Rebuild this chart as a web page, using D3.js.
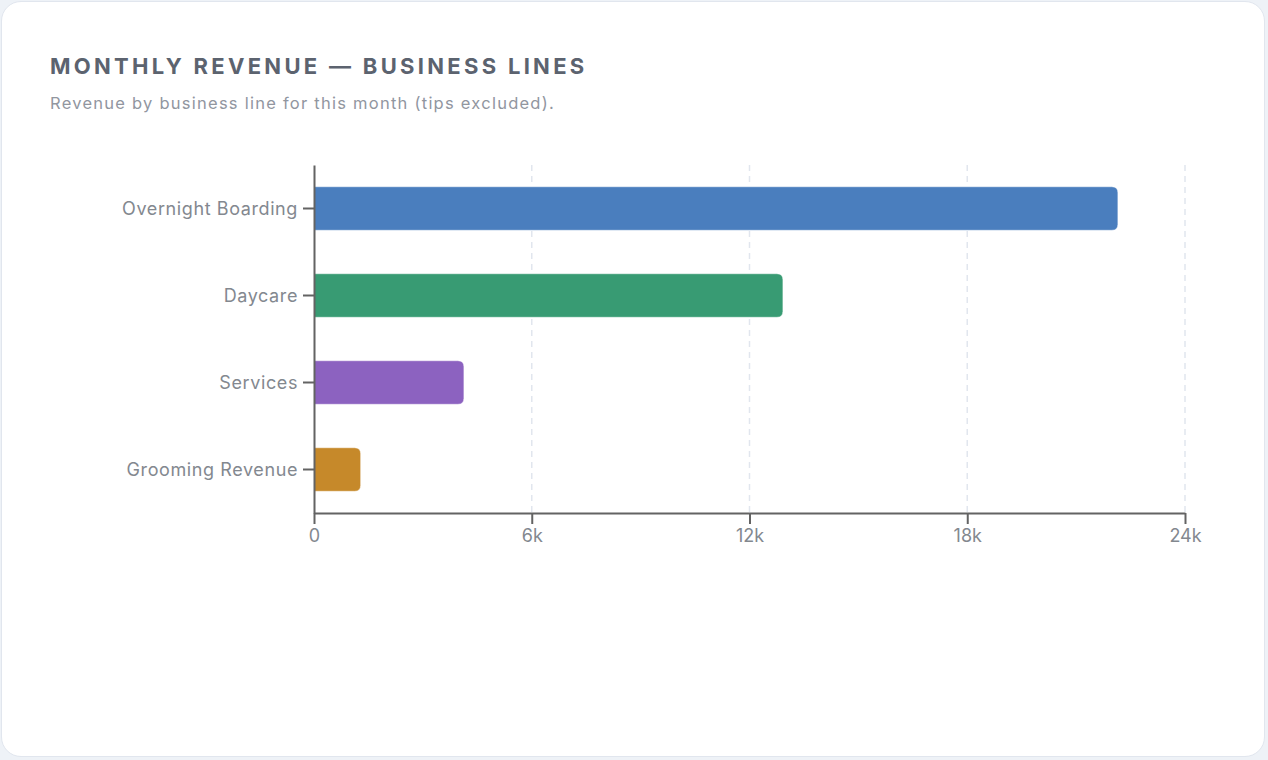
<!DOCTYPE html>
<html>
<head>
<meta charset="utf-8">
<script src="https://cdn.jsdelivr.net/npm/d3@7"></script>
<style>
  html, body { margin: 0; padding: 0; background: #eef2f7; }
  body { width: 1268px; height: 760px; overflow: hidden; font-family: Inter, "Noto Sans", sans-serif; }
  .card { position: absolute; left: 1px; top: 1px; width: 1264px; height: 756px; background: #fff; border: 1px solid #e1e6ee; border-radius: 20px; box-sizing: border-box; }
  svg { position: absolute; left: 0; top: 0; }
</style>
</head>
<body>
<div class="card"></div>
<svg id="chart" width="1268" height="760"></svg>
<script>
const categories = ["Overnight Boarding", "Daycare", "Services", "Grooming Revenue"];
const revenue = [22150, 12920, 4130, 1285];
const barColors = ["#4a7ebe", "#389b73", "#8c62c0", "#c6892a"];
const xTicks = [0, 6000, 12000, 18000, 24000];
const xTickLabels = ["0", "6k", "12k", "18k", "24k"];
const title = "MONTHLY REVENUE — BUSINESS LINES";
const subtitle = "Revenue by business line for this month (tips excluded).";

const svg = d3.select("#chart");
const margin = { left: 314, right: 83, top: 165, bottom: 247 };
const W = 1268, H = 760;

svg.append("text").attr("x", 50).attr("y", 73.5)
  .attr("fill", "#5c636f").attr("font-size", 22).attr("font-weight", 700)
  .attr("letter-spacing", "3.3px").text(title);
svg.append("text").attr("x", 50).attr("y", 109.3)
  .attr("fill", "#91969f").attr("font-size", 16.5).attr("letter-spacing", "1.25px").text(subtitle);

const x = d3.scaleLinear().domain([0, 24000]).range([margin.left, W - margin.right]);
const y = d3.scaleBand().domain(categories).range([margin.top, H - margin.bottom]).paddingInner(0.5).paddingOuter(0.25);

// grid
svg.append("g").selectAll("line").data(xTicks.slice(1)).join("line")
  .attr("x1", d => x(d)).attr("x2", d => x(d))
  .attr("y1", margin.top).attr("y2", H - margin.bottom)
  .attr("stroke", "#e1e6ee").attr("stroke-width", 1.5).attr("stroke-dasharray", "6,5");

// bars (rounded right end)
const r = 6;
svg.append("g").selectAll("path").data(categories).join("path")
  .attr("d", (c, i) => {
    const x0 = x(0), x1 = x(revenue[i]), y0 = y(c), h = y.bandwidth();
    return `M${x0},${y0}H${x1 - r}Q${x1},${y0} ${x1},${y0 + r}V${y0 + h - r}Q${x1},${y0 + h} ${x1 - r},${y0 + h}H${x0}Z`;
  })
  .attr("fill", (c, i) => barColors[i])
  .attr("stroke", "#ffffff").attr("stroke-opacity", 0.45).attr("stroke-width", 1);

const axisColor = "#636363";
const labelColor = "#83888f";

const xAxis = svg.append("g").attr("transform", `translate(0,${H - margin.bottom})`)
  .call(d3.axisBottom(x).tickValues(xTicks).tickFormat((d, i) => xTickLabels[i]).tickSize(11).tickSizeOuter(0).tickPadding(5));
const yAxis = svg.append("g").attr("transform", `translate(${margin.left},0)`)
  .call(d3.axisLeft(y).tickSize(11).tickSizeOuter(0).tickPadding(5));

[xAxis, yAxis].forEach(g => {
  g.select(".domain").attr("stroke", axisColor).attr("stroke-width", 2);
  g.selectAll(".tick line").attr("stroke", axisColor).attr("stroke-width", 2);
  g.selectAll(".tick text").attr("fill", labelColor).attr("font-size", 18).attr("font-family", "Inter, sans-serif");
});
yAxis.selectAll(".tick text").attr("letter-spacing", "0.6px").attr("dy", "0.36em");
</script>
</body>
</html>
